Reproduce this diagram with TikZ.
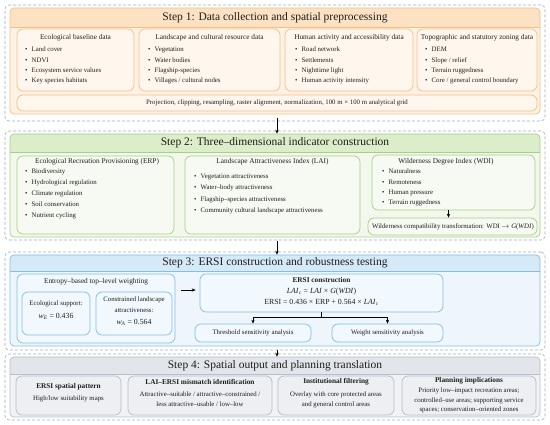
\documentclass[tikz,border=0pt]{standalone}
\usepackage{fontspec}
\setmainfont{Liberation Serif}
\usetikzlibrary{arrows.meta}
\definecolor{dashc}{HTML}{9AAEC8}
\definecolor{oline}{HTML}{F5BE86}
\definecolor{ohead}{HTML}{FCE2C2}
\definecolor{obody}{HTML}{FEF2E4}
\definecolor{osub}{HTML}{FFF7EE}
\definecolor{gline}{HTML}{A6D08A}
\definecolor{ghead}{HTML}{DCEDC9}
\definecolor{gbody}{HTML}{F2F8EC}
\definecolor{gsub}{HTML}{F6FAF2}
\definecolor{bline}{HTML}{82BEE6}
\definecolor{bhead}{HTML}{D5E9F7}
\definecolor{bbody}{HTML}{EEF6FC}
\definecolor{bsub}{HTML}{F1F8FE}
\definecolor{kline}{HTML}{B7BFCA}
\definecolor{khead}{HTML}{E2E5EA}
\definecolor{kbody}{HTML}{F1F2F5}
\definecolor{ksub}{HTML}{EDEFF3}
\definecolor{txtc}{HTML}{1E1E1E}
\newcommand\bx[6]{\node[#6, inner sep=0pt, minimum width={(#4)-(#2)}, minimum height={(#5)-(#3)}] (#1) at ({((#2)+(#4))/2},{((#3)+(#5))/2}) {};}
\newcommand\stepc[5]{%
 \fill[#5body, rounded corners=4pt] (10,#2) rectangle (540,#3);
 \fill[#5head, rounded corners=4pt] (10,#2) rectangle (540,#4);
 \fill[#5head] (10,{(#2+#4)/2}) rectangle (540,#4);
 \draw[#5line, line width=0.7pt] (10,#4) -- (540,#4);
 \bx{#1}{10}{#2}{540}{#3}{draw=#5line, line width=0.7pt, rounded corners=4pt}}
\newcommand\blist[5]{\foreach \t [count=\i] in {#5} \node[bul] (#1\i) at (#2,{#3+(\i-1)*#4}) {\makebox[6.5pt][l]{\textbullet}\t};}
\begin{document}
\begin{tikzpicture}[x=1pt,y=-1pt,
  dashbox/.style={draw=dashc, dash pattern=on 3pt off 2pt, rounded corners=4pt, line width=0.6pt},
  sbox/.style={draw=#1line, fill=#1sub, line width=0.7pt, rounded corners=6pt},
  ttl/.style={inner sep=0pt, text=txtc, font=\fontsize{11.5}{13}\selectfont, text height=8pt, text depth=2.5pt},
  hd/.style={inner sep=0pt, text=txtc, font=\fontsize{7.3}{9}\selectfont, text height=5pt, text depth=1.5pt},
  bhd/.style={inner sep=0pt, text=txtc, font=\fontsize{7.3}{9}\selectfont\bfseries, text height=5pt, text depth=1.5pt},
  tx/.style={inner sep=0pt, text=txtc, font=\fontsize{6.8}{8}\selectfont, text height=5pt, text depth=1.5pt},
  eq/.style={inner sep=0pt, text=txtc, font=\fontsize{7.8}{9}\selectfont, text height=5.5pt, text depth=1.8pt},
  bul/.style={tx, anchor=west},
  arr/.style={-{Stealth[length=4pt,width=3.4pt]}, line width=0.6pt, black}]
\useasboundingbox (0,0) rectangle (550,425);
\fill[white] (0,0) rectangle (550,425);

% ---------- Step 1 ----------
\bx{d1}{5}{5}{545}{121}{dashbox}
\stepc{c1}{8}{114}{27}{o}
\node[ttl] (t1) at (275,17.5) {Step 1: Data collection and spatial preprocessing};
\bx{eco}{17}{29}{134}{91}{sbox=o}
\bx{lnd}{139}{29}{280}{91}{sbox=o}
\bx{hum}{285}{29}{413}{91}{sbox=o}
\bx{topo}{417}{29}{537}{91}{sbox=o}
\bx{bar}{17}{95}{537}{111}{sbox=o}
\node[hd] (ecoT) at (75.5,38) {Ecological baseline data};
\node[hd] (lndT) at (209.5,38) {Landscape and cultural resource data};
\node[hd] (humT) at (349,38) {Human activity and accessibility data};
\node[hd] (topoT) at (477,38) {Topographic and statutory zoning data};
\blist{ecoB}{25}{50}{10.4}{Land cover, NDVI, Ecosystem service values, Key species habitats}
\blist{lndB}{148}{50}{10.4}{Vegetation, Water bodies, Flagship-species, Villages / cultural nodes}
\blist{humB}{295}{50}{10.4}{Road network, Settlements, Nighttime light, Human activity intensity}
\blist{topoB}{425}{50}{10.4}{DEM, Slope / relief, Terrain ruggedness, Core / general control boundary}
\node[tx] (barT) at (277,103) {Projection, clipping, resampling, raster alignment, normalization, 100 m × 100 m analytical grid};

% ---------- Step 2 ----------
\bx{d2}{5}{131}{545}{240}{dashbox}
\stepc{c2}{134}{237}{152}{g}
\node[ttl] (t2) at (275,143) {Step 2: Three--dimensional indicator construction};
\bx{erp}{17}{156}{174}{234}{sbox=g}
\bx{lai}{185}{156}{360}{234}{sbox=g}
\bx{wdi}{372}{155}{535}{210}{sbox=g}
\bx{wct}{368}{218}{537}{235}{sbox=g}
\node[hd] (erpT) at (97,162) {Ecological Recreation Provisioning (ERP)};
\node[hd] (laiT) at (272.5,162) {Landscape Attractiveness Index (LAI)};
\node[hd] (wdiT) at (446,162) {Wilderness Degree Index (WDI)};
\blist{erpB}{25}{172}{10.9}{Biodiversity, Hydrological regulation, Climate regulation, Soil conservation, Nutrient cycling}
\blist{laiB}{194}{177}{11.2}{Vegetation attractiveness, Water--body attractiveness, Flagship--species attractiveness, Community cultural landscape attractiveness}
\blist{wdiB}{382}{172}{10.4}{Naturalness, Remoteness, Human pressure, Terrain ruggedness}
\node[tx] (wctT) at (453,227) {Wilderness compatibility transformation: WDI $\rightarrow$ \textit{G}(\textit{WDI})};
\draw[arr] ([xshift=-5pt]wdi.south) -- ([xshift=-5pt]wdi.south |- wct.north);

% ---------- Step 3 ----------
\bx{d3}{5}{252}{545}{350}{dashbox}
\stepc{c3}{255}{346}{271}{b}
\node[ttl] (t3) at (275,263) {Step 3: ERSI construction and robustness testing};
\bx{ent}{17}{274}{175}{343}{sbox=b}
\bx{es}{22}{292}{90}{335}{sbox=b}
\bx{ca}{96}{292}{172}{335}{sbox=b}
\bx{ersi}{200}{274}{443}{312}{sbox=b}
\bx{thr}{195}{324}{311}{342}{sbox=b}
\bx{wgt}{332}{324}{443}{342}{sbox=b}
\node[hd] (entT) at (96,282) {Entropy--based top--level weighting};
\node[tx] (es1) at (56,304) {Ecological support:};
\node[eq] (es2) at (56,317) {\textit{w}\textsubscript{\textit{E}} = 0.436};
\node[tx] (ca1) at (134,300) {Constrained landscape};
\node[tx] (ca2) at (134,310.5) {attractiveness:};
\node[eq] (ca3) at (134,323) {\textit{w}\textsubscript{\textit{A}} = 0.564};
\node[bhd] (ersi1) at (321.5,281) {ERSI construction};
\node[eq] (ersi2) at (321.5,292) {\textit{LAI}\textsubscript{\textit{c}} = \textit{LAI} × \textit{G}(\textit{WDI})};
\node[eq] (ersi3) at (321.5,303) {ERSI = 0.436 × ERP + 0.564 × \textit{LAI}\textsubscript{\textit{c}}};
\node[tx] (thrT) at (253,333) {Threshold sensitivity analysis};
\node[tx] (wgtT) at (387.5,333) {Weight sensitivity analysis};
\draw[arr] ([xshift=6pt,yshift=3pt]ent.east |- ersi.west) -- ([xshift=-4pt,yshift=3pt]ersi.west);
\draw[line width=0.6pt] (ersi.south) -- ++(0,5) coordinate (split);
\draw[arr] (split) -| (thr.north);
\draw[arr] (split) -| (wgt.north);

% ---------- Step 4 ----------
\bx{d4}{5}{354}{545}{420}{dashbox}
\stepc{c4}{357}{417}{374}{k}
\node[ttl] (t4) at (275,365.5) {Step 4: Spatial output and planning translation};
\bx{p1}{16}{376}{121}{415}{sbox=k}
\bx{p2}{128}{376}{272}{415}{sbox=k}
\bx{p3}{278}{376}{394}{415}{sbox=k}
\bx{p4}{402}{376}{536}{415}{sbox=k}
\node[bhd] (p1a) at (68.5,387) {ERSI spatial pattern};
\node[tx] (p1b) at (68.5,399) {High/low suitability maps};
\node[bhd] (p2a) at (200,383) {LAI--ERSI mismatch identification};
\node[tx] (p2b) at (200,395) {Attractive--suitable / attractive--constrained /};
\node[tx] (p2c) at (200,405) {less attractive--usable / low--low};
\node[bhd] (p3a) at (336,382) {Institutional filtering};
\node[tx] (p3b) at (336,395) {Overlay with core protected areas};
\node[tx] (p3c) at (336,405) {and general control areas};
\node[bhd] (p4a) at (469,381) {Planning implications};
\node[tx] (p4b) at (469,391) {Priority low--impact recreation areas;};
\node[tx] (p4c) at (469,400.5) {controlled--use areas; supporting service};
\node[tx] (p4d) at (469,410) {spaces; conservation--oriented zones};

% ---------- step arrows ----------
\draw[arr] ([xshift=2pt,yshift=-4pt]c1.south) -- ([xshift=2pt]c2.north);
\draw[arr] ([xshift=2pt,yshift=-4pt]c2.south) -- ([xshift=2pt]c3.north);
\draw[arr] ([xshift=2pt,yshift=-4pt]c3.south) -- ([xshift=2pt]c4.north);
\end{tikzpicture}
\end{document}
